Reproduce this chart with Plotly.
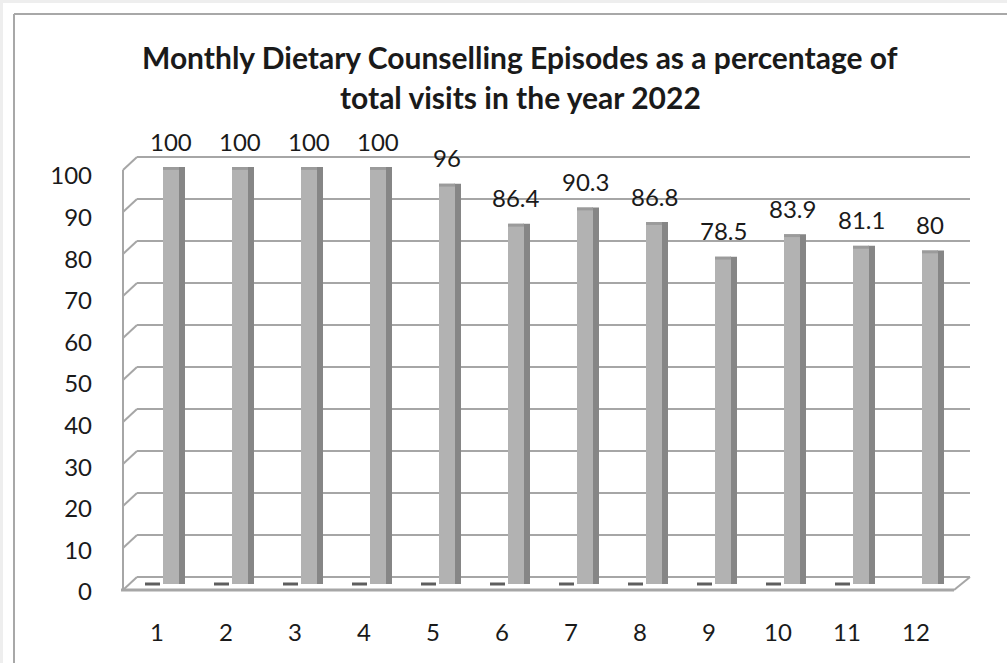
import plotly.graph_objects as go

# ---- data ----
months = [1, 2, 3, 4, 5, 6, 7, 8, 9, 10, 11, 12]
percent = [100, 100, 100, 100, 96, 86.4, 90.3, 86.8, 78.5, 83.9, 81.1, 80]
zero_months = [1, 2, 3, 4, 5, 6, 7, 8, 9, 10, 11]
zero_values = [0, 0, 0, 0, 0, 0, 0, 0, 0, 0, 0]
y_ticks = [0, 10, 20, 30, 40, 50, 60, 70, 80, 90, 100]
title_lines = ["Monthly Dietary Counselling Episodes as a percentage of",
               "total visits in the year 2022"]

# ---- geometry (pixels) ----
W, H = 1007, 663
L, R, T, B = 123, 975, 157, 602          # plot area
PX_CAT = 69.0                              # px per category
X0 = 157                                   # px of category 1
Y0_BAR = 584                               # px of value 0 for bars
PX_VAL = 4.17                              # px per unit
BACK_L, BACK_R = 137, 970
BACK_Y0, FRONT_Y0 = 577, 590
PX_GRID = 4.2

xr = [1 + (L - X0) / PX_CAT, 1 + (R - X0) / PX_CAT]
yr = [(Y0_BAR - B) / PX_VAL, (Y0_BAR - T) / PX_VAL]


def px(x):
    return (x - L) / (R - L)


def py(y):
    return (B - y) / (B - T)


FONT = "Lato, 'Open Sans', sans-serif"
GRID = "#a6a6a6"
TXT = "#1a1a1a"

fig = go.Figure()

# side of bars (darker)
fig.add_trace(go.Bar(x=months, y=percent, offset=21 / PX_CAT, width=7 / PX_CAT,
                     marker=dict(color="#868686", line=dict(width=0)),
                     hoverinfo="skip", showlegend=False))
# front face
fig.add_trace(go.Bar(x=months, y=percent, offset=6 / PX_CAT, width=16 / PX_CAT,
                     marker=dict(color="#b2b2b2", line=dict(width=0)),
                     showlegend=False))
# top cap
fig.add_trace(go.Bar(x=months, y=[0.7] * len(percent), base=[v - 0.7 for v in percent],
                     offset=6 / PX_CAT, width=16 / PX_CAT,
                     marker=dict(color="#9b9b9b", line=dict(width=0)),
                     hoverinfo="skip", showlegend=False))
# zero-valued series (flat slivers)
fig.add_trace(go.Bar(x=zero_months, y=zero_values, offset=-12 / PX_CAT, width=15 / PX_CAT,
                     marker=dict(color="#5e5e5e", line=dict(color="#5e5e5e", width=3)),
                     showlegend=False))

shapes = []
# outer frame
shapes.append(dict(type="rect", xref="paper", yref="paper", x0=px(0), x1=px(W), y0=py(0), y1=py(3),
                   fillcolor="#eeeeee", line=dict(width=0), layer="below"))
shapes.append(dict(type="rect", xref="paper", yref="paper", x0=px(0), x1=px(3), y0=py(0), y1=py(H),
                   fillcolor="#eeeeee", line=dict(width=0), layer="below"))
shapes.append(dict(type="line", xref="paper", yref="paper", x0=px(14), x1=px(W + 5), y0=py(14), y1=py(14),
                   line=dict(color="#a8a8a8", width=2)))
shapes.append(dict(type="line", xref="paper", yref="paper", x0=px(14), x1=px(14), y0=py(14), y1=py(H + 5),
                   line=dict(color="#a8a8a8", width=2)))

# walls & gridlines
for v in y_ticks:
    yb = BACK_Y0 - PX_GRID * v
    yf = FRONT_Y0 - PX_GRID * v
    shapes.append(dict(type="line", xref="paper", yref="paper", x0=px(BACK_L), x1=px(BACK_R),
                       y0=py(yb), y1=py(yb), line=dict(color=GRID, width=2), layer="below"))
    shapes.append(dict(type="line", xref="paper", yref="paper", x0=px(L), x1=px(BACK_L),
                       y0=py(yf), y1=py(yb), line=dict(color=GRID, width=2), layer="below"))
shapes.append(dict(type="line", xref="paper", yref="paper", x0=px(L), x1=px(L),
                   y0=py(FRONT_Y0 - PX_GRID * max(y_ticks)), y1=py(FRONT_Y0),
                   line=dict(color=GRID, width=2), layer="below"))
# floor
shapes.append(dict(type="line", xref="paper", yref="paper", x0=px(L - 2), x1=px(BACK_R - 16),
                   y0=py(FRONT_Y0), y1=py(FRONT_Y0), line=dict(color=GRID, width=3)))
shapes.append(dict(type="line", xref="paper", yref="paper", x0=px(BACK_R - 16), x1=px(BACK_R),
                   y0=py(FRONT_Y0), y1=py(BACK_Y0), line=dict(color=GRID, width=2)))

annotations = []
for m, v in zip(months, percent):
    annotations.append(dict(x=m + 14 / PX_CAT, y=v, xref="x", yref="y", text=f"{v:g}",
                            showarrow=False, yshift=26, xanchor="center", yanchor="middle",
                            font=dict(family=FONT, size=24, color=TXT)))
for i, (line, yc) in enumerate(zip(title_lines, [57, 97])):
    annotations.append(dict(x=px(520), y=py(yc), xref="paper", yref="paper", text=f"<b>{line}</b>",
                            showarrow=False, xanchor="center", yanchor="middle",
                            font=dict(family=FONT, size=30, color=TXT)))

tick_pos = [(Y0_BAR - (592 - 4.16 * v)) / PX_VAL for v in y_ticks]

fig.update_layout(
    width=W, height=H,
    margin=dict(l=L, r=W - R, t=T, b=H - B, pad=0),
    paper_bgcolor="white", plot_bgcolor="rgba(0,0,0,0)",
    barmode="overlay",
    shapes=shapes, annotations=annotations,
    font=dict(family=FONT, size=24, color=TXT),
    xaxis=dict(range=xr, tickvals=months, ticktext=[str(m) for m in months],
               showgrid=False, zeroline=False, showline=False, ticks="",
               ticklabelstandoff=14, tickfont=dict(size=24)),
    yaxis=dict(range=yr, tickvals=tick_pos, ticktext=[str(v) for v in y_ticks],
               showgrid=False, zeroline=False, showline=False, ticks="",
               ticklabelstandoff=30, tickfont=dict(size=24)),
)

fig.write_html("out.html")
